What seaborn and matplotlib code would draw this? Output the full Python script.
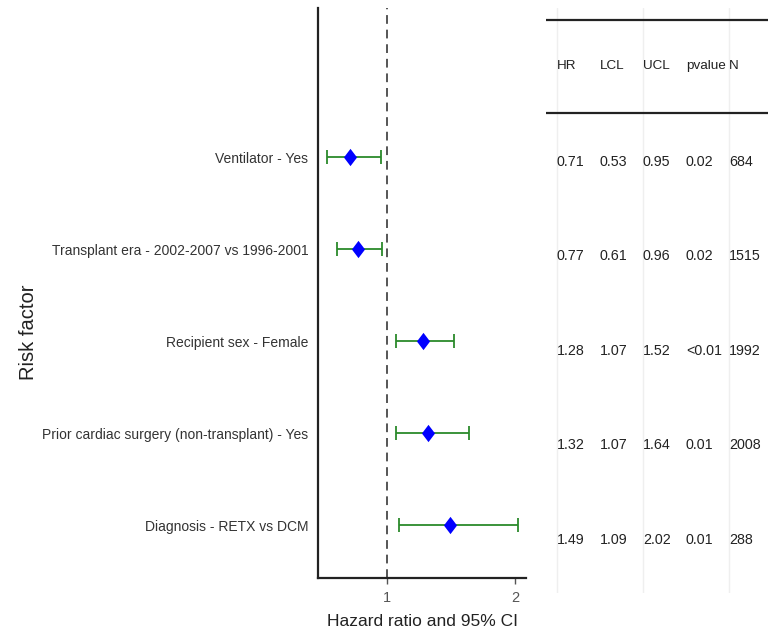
import matplotlib
matplotlib.use("Agg")
import matplotlib.pyplot as plt
import seaborn as sns
import pandas as pd

# Cox model results for each risk factor (top to bottom)
factors = [
    "Ventilator - Yes",
    "Transplant era - 2002-2007 vs 1996-2001",
    "Recipient sex - Female",
    "Prior cardiac surgery (non-transplant) - Yes",
    "Diagnosis - RETX vs DCM",
]
hr = [0.71, 0.77, 1.28, 1.32, 1.49]
lcl = [0.53, 0.61, 1.07, 1.07, 1.09]
ucl = [0.95, 0.96, 1.52, 1.64, 2.02]
pvalue = ["0.02", "0.02", "<0.01", "0.01", "0.01"]
n_obs = [684, 1515, 1992, 2008, 288]

table_cols = ["HR", "LCL", "UCL", "pvalue", "N"]
x_ticks = [1, 2]

df = pd.DataFrame({"factor": factors, "HR": hr, "LCL": lcl, "UCL": ucl,
                   "pvalue": pvalue, "N": n_obs})
df["row"] = list(range(len(df), 0, -1))

sns.set_theme(style="white")
plt.rcParams["font.family"] = ["Liberation Sans", "DejaVu Sans"]

fig = plt.figure(figsize=(7.68, 6.37), dpi=100)

# slightly tall diamond for the point estimates
diamond = [(0, 1), (0.76, 0), (0, -1), (-0.76, 0), (0, 1)]

# ---- forest plot panel ----
ax = fig.add_axes([0.4141, 0.0926, 0.2708, 0.8948])
ax.axvline(1, color="#555555", lw=1.4, ls=(0, (4.5, 3)), zorder=1)
ax.errorbar(df["HR"], df["row"],
            xerr=[df["HR"] - df["LCL"], df["UCL"] - df["HR"]],
            fmt="none", ecolor="#2b8a2b", elinewidth=1.3, capsize=4.8,
            capthick=1.3, zorder=2)
sns.scatterplot(data=df, x="HR", y="row", marker=diamond, s=155,
                color="#0000ff", edgecolor="#0000ff", linewidth=0, ax=ax,
                zorder=3, legend=False)

ax.set_xlim(0.461, 2.086)
ax.set_ylim(0.424, 6.62)
ax.set_xticks(x_ticks)
ax.set_xticklabels([str(t) for t in x_ticks])
ax.set_yticks(df["row"])
ax.set_yticklabels(df["factor"])
ax.tick_params(axis="x", bottom=True, length=4, width=1, color="#555555",
               labelsize=10.5, labelcolor="#555555", pad=5)
ax.tick_params(axis="y", left=False, length=0, labelsize=10,
               labelcolor="#333333", pad=7)
for side in ["top", "right"]:
    ax.spines[side].set_visible(False)
for side in ["left", "bottom"]:
    ax.spines[side].set_color("#222222")
    ax.spines[side].set_linewidth(1.6)
ax.set_xlabel("Hazard ratio and 95% CI", fontsize=12.5, color="#222222",
              labelpad=7)
ax.set_ylabel("")
fig.text(0.037, 0.478, "Risk factor", rotation=90, fontsize=14.5,
         color="#222222", ha="center", va="center")

# ---- results table panel ----
tx = fig.add_axes([0.7109, 0.0691, 0.2891, 0.9183])
tx.set_xlim(0.744, 5.907)
tx.set_ylim(0.418, 6.61)
tx.axis("off")
for gx in [1, 3, 5]:
    tx.axvline(gx, color="#efefef", lw=1.0, zorder=0)
tx.axhline(6.48, color="#222222", lw=1.6)
tx.axhline(5.5, color="#222222", lw=1.6)
for j, col in enumerate(table_cols):
    tx.text(j + 1, 6.0, col, ha="left", va="center", fontsize=9.7,
            color="#222222")
for _, r in df.iterrows():
    vals = [f"{r['HR']:.2f}", f"{r['LCL']:.2f}", f"{r['UCL']:.2f}",
            r["pvalue"], str(r["N"])]
    for j, v in enumerate(vals):
        tx.text(j + 1, r["row"] - 0.02, v, ha="left", va="center",
                fontsize=10.3, color="#222222")

fig.savefig("out.png", dpi=100, facecolor="white")
